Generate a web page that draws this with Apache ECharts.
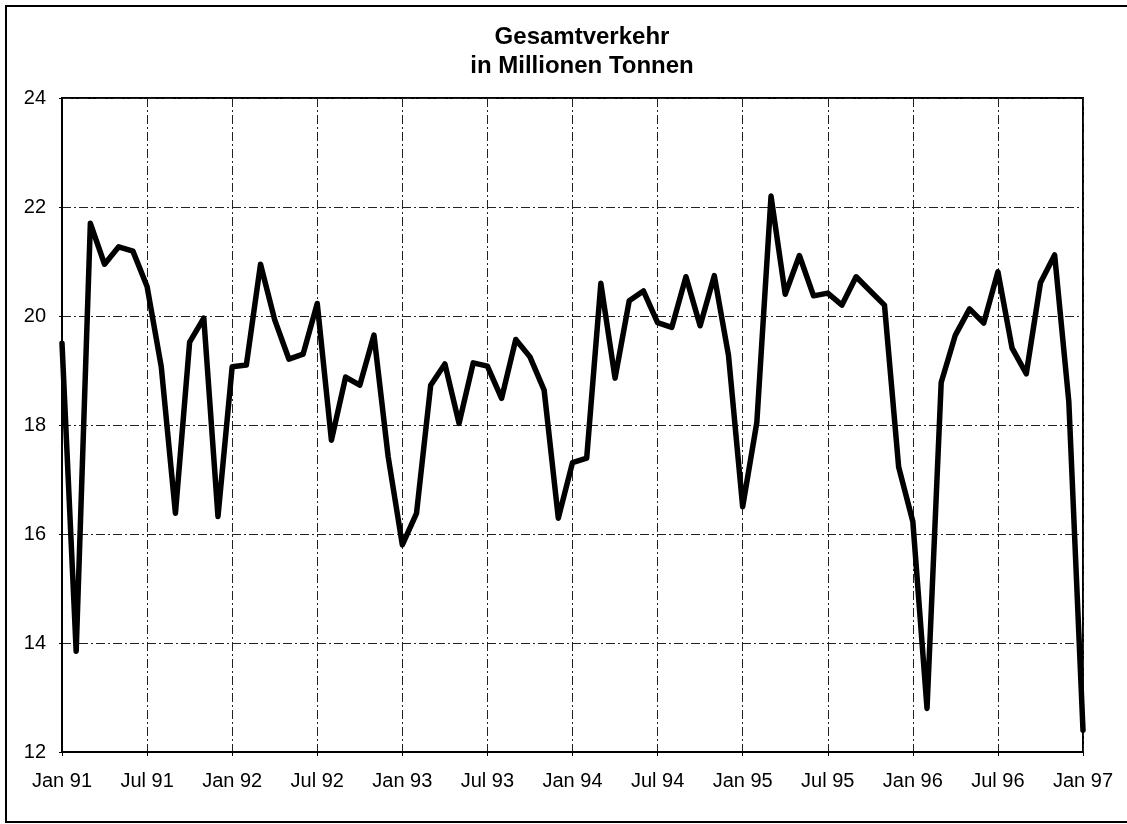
<!DOCTYPE html>
<html>
<head>
<meta charset="utf-8">
<title>Gesamtverkehr</title>
<script src="https://cdn.jsdelivr.net/npm/echarts@6/dist/echarts.min.js"></script>
<style>
  html, body { margin: 0; padding: 0; background: #fff; }
  #chart { width: 1127px; height: 824px; }
</style>
</head>
<body>
<div id="chart"></div>
<script>
// monthly values Jan 91 .. Jan 97
const years = ['91', '92', '93', '94', '95', '96', '97']
const monthNames = ['Jan', 'Feb', 'Mrz', 'Apr', 'Mai', 'Jun', 'Jul', 'Aug', 'Sep', 'Okt', 'Nov', 'Dez']
const months = []
years.forEach(y => monthNames.forEach(m => months.push(m + ' ' + y)))
months.length = 73

const tonnes = [
  19.5, 13.85, 21.7, 20.95, 21.27, 21.19, 20.54, 19.07, 16.38, 19.52, 19.96, 16.32,
  19.07, 19.1, 20.95, 19.93, 19.21, 19.3, 20.23, 17.72, 18.88, 18.73, 19.65, 17.42,
  15.8, 16.38, 18.73, 19.12, 18.03, 19.14, 19.08, 18.49, 19.57, 19.25, 18.64, 16.29,
  17.31, 17.39, 20.6, 18.86, 20.28, 20.46, 19.88, 19.79, 20.72, 19.82, 20.74, 19.28,
  16.5, 18.05, 22.2, 20.4, 21.11, 20.37, 20.42, 20.2, 20.72, 20.46, 20.2, 17.23,
  16.23, 12.8, 18.78, 19.65, 20.13, 19.87, 20.81, 19.41, 18.94, 20.61, 21.12, 18.43,
  12.4
]

const titleLines = ['Gesamtverkehr', 'in Millionen Tonnen']

const chart = echarts.init(document.getElementById('chart'))

const gridLine = {
  show: true,
  lineStyle: { color: '#222', width: 1, type: [9, 3, 2, 3] }
}

const option = {
  backgroundColor: '#fff',
  animation: false,
  title: {
    text: titleLines.join('\n'),
    left: 577,
    textAlign: 'center',
    top: 18,
    textStyle: {
      fontFamily: 'Liberation Sans',
      fontWeight: 'bold',
      fontSize: 24,
      lineHeight: 29,
      color: '#000'
    }
  },
  graphic: [
    {
      type: 'rect',
      shape: { x: 6, y: 6, width: 1140, height: 816 },
      style: { fill: null, stroke: '#000', lineWidth: 2 },
      silent: true
    }
  ],
  grid: {
    left: 62,
    right: 44,
    top: 98,
    bottom: 72,
    show: true,
    borderColor: '#000',
    borderWidth: 2
  },
  xAxis: {
    type: 'category',
    data: months,
    boundaryGap: false,
    axisLine: { lineStyle: { color: '#000', width: 2 } },
    axisTick: { interval: 5, length: 4, lineStyle: { color: '#000' } },
    axisLabel: {
      interval: 5,
      margin: 19,
      fontFamily: 'Liberation Sans',
      fontSize: 20,
      color: '#000',
      formatter: v => v.startsWith('Jan') || v.startsWith('Jul') ? v : ''
    },
    splitLine: Object.assign({ interval: 5 }, gridLine)
  },
  yAxis: {
    type: 'value',
    min: 12,
    max: 24,
    interval: 2,
    axisLine: { show: true, lineStyle: { color: '#000', width: 2 } },
    axisTick: { show: true, length: 3, lineStyle: { color: '#000' } },
    axisLabel: {
      margin: 16,
      fontFamily: 'Liberation Sans',
      fontSize: 20,
      color: '#000'
    },
    splitLine: gridLine
  },
  series: [
    {
      type: 'line',
      data: tonnes,
      showSymbol: false,
      lineStyle: { color: '#000', width: 5.5, join: 'round', cap: 'round' }
    }
  ]
}

chart.setOption(option)
</script>
</body>
</html>
